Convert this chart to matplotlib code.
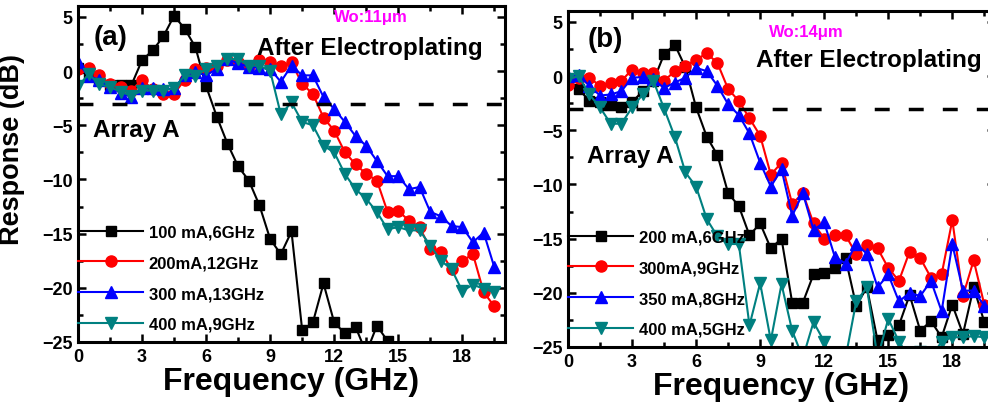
import matplotlib
matplotlib.use('Agg')
import matplotlib.pyplot as plt

plt.rcParams['font.family'] = ['Liberation Sans', 'DejaVu Sans']
plt.rcParams['font.weight'] = 'bold'

freq = [0, 0.5, 1, 1.5, 2, 2.5, 3, 3.5, 4, 4.5, 5, 5.5, 6, 6.5, 7, 7.5, 8, 8.5, 9, 9.5,
        10, 10.5, 11, 11.5, 12, 12.5, 13, 13.5, 14, 14.5, 15, 15.5, 16, 16.5, 17, 17.5, 18, 18.5, 19, 19.5]

# panel (a), Wo:11um
a_100 = [0.3, -0.3, -0.8, -1.3, -1.3, -1.3, 1.0, 1.9, 3.2, 5.1, 3.9, 2.2, -1.4, -4.2, -6.7, -8.8,
         -10.1, -12.4, -15.5, -16.9, -14.8, -23.9, -23.2, -19.6, -23.2, -24.2, -23.6, -26, -23.5, -24.9, -27]
a_200 = [0.2, 0.3, -0.4, -1.2, -1.5, -1.8, -0.8, -1.7, -2.1, -2.1, -0.8, 0.2, 0.3, 0.5, 1.0, 0.8,
         0.5, 1.0, 0.8, 0.5, 0.8, -1.2, -2.1, -4.3, -5.5, -7.5, -8.6, -9.5, -10.1, -13.0, -12.9, -13.8,
         -14.4, -16.4, -16.7, -18.3, -17.5, -16.9, -20.4, -21.7]
a_300 = [0.8, -0.5, -0.8, -1.5, -2.0, -2.4, -1.6, -1.6, -1.7, -1.6, -0.4, -0.1, -0.4, 0.2, 1.1, 0.7,
         0.4, 0.3, 0.2, -1.0, 0.5, -0.4, -0.4, -2.4, -3.5, -4.7, -6.0, -6.9, -8.3, -9.7, -9.7, -10.9,
         -10.7, -13.0, -13.4, -14.3, -14.4, -15.8, -14.9, -18.1]
a_400 = [-1.4, -0.3, -1.2, -1.5, -1.9, -2.3, -1.8, -1.8, -1.8, -1.6, -0.4, -0.5, 0.2, 0.5, 1.1, 1.1,
         0.5, 0.5, 0.0, -4.0, -2.9, -4.7, -5.0, -6.9, -7.5, -9.5, -10.9, -11.8, -13.0, -14.6, -14.4, -14.7,
         -14.7, -16.1, -17.5, -18.3, -20.3, -19.7, -20.1, -20.4]

# panel (b), Wo:14um
b_200 = [-0.45, -1.2, -2.3, -2.4, -2.5, -2.9, -2.4, -1.4, -0.45, 2.0, 2.9, 0.8, -2.9, -5.6, -7.3, -10.8,
         -12.0, -14.7, -13.6, -15.9, -15.0, -20.9, -20.9, -18.3, -18.2, -17.7, -16.8, -21.2, -19.5, -24.4,
         -23.9, -23.0, -20.2, -23.5, -22.6, -24.1, -21.1, -23.8, -19.5, -22.7]
b_300 = [-0.8, -0.15, -0.15, -0.9, -0.6, -0.45, 0.6, 0.3, 0.3, -0.45, 0.45, 0.9, 1.5, 2.1, 1.2, -1.2,
         -2.3, -3.9, -5.5, -9.1, -8.0, -11.8, -10.8, -13.6, -15.0, -14.7, -14.7, -16.4, -15.6, -15.9,
         -17.7, -18.9, -16.2, -16.8, -18.6, -18.3, -13.3, -20.3, -17.0, -21.1]
b_350 = [0.0, 0.1, -0.9, -1.8, -1.7, -1.4, -0.15, -0.1, -0.3, -1.1, -0.6, -0.15, 0.75, 0.45, -0.9, -2.6,
         -3.6, -5.3, -8.0, -10.2, -8.6, -12.9, -10.8, -14.2, -13.5, -16.7, -17.3, -15.5, -16.4, -19.5,
         -18.3, -20.8, -20.0, -20.3, -18.9, -21.7, -15.5, -19.8, -19.8, -21.2]
b_400 = [-0.3, 0.0, -1.7, -2.9, -4.4, -4.4, -2.9, -1.7, -0.45, -3.0, -5.6, -8.9, -10.2, -13.2, -14.8, -15.5,
         -15.5, -23.0, -19.1, -24.4, -19.2, -23.5, -26, -22.7, -24.5, -27, -26, -20.8, -19.5, -26,
         -22.4, -24.5, -26, -25.5, -26, -24.5, -24.1, -24.1, -24.0, -24.1]

a_labels = ['100 mA,6GHz', '200mA,12GHz', '300 mA,13GHz', '400 mA,9GHz']
b_labels = ['200 mA,6GHz', '300mA,9GHz', '350 mA,8GHz', '400 mA,5GHz']
colors = ['black', '#ff0000', '#0000ff', '#008080']
markers = ['s', 'o', '^', 'v']
sizes = [7.5, 8, 8.5, 8.5]

fig = plt.figure(figsize=(9.88, 4.06), dpi=100)
axa = fig.add_axes([78/988, 1-343/406, 427/988, 336/406])
axb = fig.add_axes([568/988, 1-348/406, 427/988, 336/406])


def panel(ax, series, labels):
    for ys, lab, c, m, s in zip(series, labels, colors, markers, sizes):
        ax.plot(freq[:len(ys)], ys, color=c, marker=m, ms=s, lw=1.5, label=lab)
    ax.axhline(-3, color='black', ls=(0, (4.3, 5.5)), lw=2.5)
    ax.set_xlim(0, 20)
    ax.set_ylim(-25, 6)
    ax.set_xticks([0, 3, 6, 9, 12, 15, 18])
    ax.set_xticks([1.5, 4.5, 7.5, 10.5, 13.5, 16.5, 19.5], minor=True)
    ax.set_yticks([5, 0, -5, -10, -15, -20, -25])
    ax.set_yticks([2.5, -2.5, -7.5, -12.5, -17.5, -22.5], minor=True)
    ax.tick_params(which='both', direction='in', top=True, right=True, width=1.8, labelsize=13, pad=4)
    ax.tick_params(which='major', length=6)
    ax.tick_params(which='minor', length=3.5)
    for lbl in ax.get_xticklabels() + ax.get_yticklabels():
        lbl.set_fontweight('bold')
    for sp in ax.spines.values():
        sp.set_linewidth(2.2)
    ax.set_xlabel('Frequency (GHz)', fontsize=23, fontweight='bold', labelpad=1)
    ax.legend(loc='upper left', bbox_to_anchor=(0, 0.35), frameon=False,
              handlelength=3.9, handletextpad=0.35, labelspacing=0.95, borderpad=0,
              borderaxespad=0, prop={'weight': 'bold', 'size': 12})


panel(axa, [a_100, a_200, a_300, a_400], a_labels)
panel(axb, [b_200, b_300, b_350, b_400], b_labels)

axa.set_ylabel('Response (dB)', fontsize=19.5, fontweight='bold')
axa.yaxis.set_label_coords(-0.124, 0.577)

axa.text(0.75, 3.1, '(a)', fontsize=20, fontweight='bold', va='center')
axa.text(12.0, 5.05, 'Wo:11\u03bcm', fontsize=12, fontweight='bold', color='#ff00ff', va='center')
axa.text(8.4, 2.2, 'After Electroplating', fontsize=17.5, fontweight='bold', va='center')
axa.text(0.7, -5.35, 'Array A', fontsize=17.5, fontweight='bold', va='center')

axb.text(0.9, 3.4, '(b)', fontsize=20, fontweight='bold', va='center')
axb.text(9.4, 4.1, 'Wo:14\u03bcm', fontsize=12, fontweight='bold', color='#ff00ff', va='center')
axb.text(8.8, 1.5, 'After Electroplating', fontsize=17.5, fontweight='bold', va='center')
axb.text(0.9, -7.3, 'Array A', fontsize=17.5, fontweight='bold', va='center')

fig.savefig('out.png', dpi=100)
